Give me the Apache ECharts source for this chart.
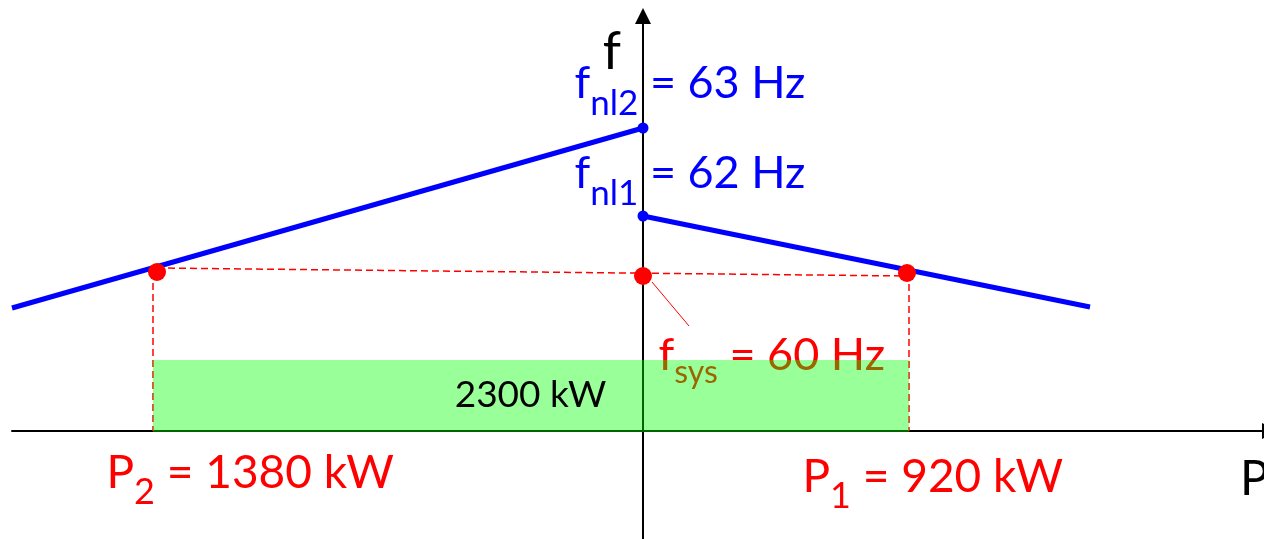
<!DOCTYPE html>
<html><head><meta charset="utf-8">
<script src="https://cdn.jsdelivr.net/npm/echarts@6/dist/echarts.min.js"></script>
<style>html,body{margin:0;padding:0;background:#fff}#c{width:1264px;height:539px}</style>
</head><body><div id="c"></div>
<script>
// Schematic diagram coordinates: x = power axis (0 at the f axis, generator 2 drawn to the left),
// y = frequency axis (0 at the P axis). The drawing is not to scale, as in the reference.
const droop2 = [[-631, 123], [0, 303]];          // generator 2 droop curve
const droop1 = [[0, 215], [447, 124]];           // generator 1 droop curve
const noLoadPoints = [[0, 303], [0, 215]];       // f_nl2, f_nl1
const operatingPoints = [[-486, 159], [0, 155], [264, 158]];
const sysFreqLine = [[-486, 163], [264, 155]];
const p2Drop = [[-490, 159], [-490, 0]];
const p1Drop = [[266, 158], [266, 0]];
const leaderLine = [[9, 149], [46, 105]];
const sharedLoad = [[-490, 71, 266, -1]];        // x0, y0, x1, y1

// Values shown in the diagram
const fnlHz = [62, 63];        // no-load frequency of gen 1, gen 2
const fsysHz = 60;
const powerKW = [920, 1380];   // P1, P2
const totalKW = 2300;

// Label anchor points (left / middle of each text)
const fnlLabelAnchors = [[-68, 257], [-68, 347]];
const fsysLabelAnchor = [16, 75];
const powerLabelAnchors = [[160, -47], [-536, -43]];
const totalLabelAnchor = [-112, 35];

const BLUE = '#0000ff', RED = '#ff0000', FONT = 'Lato';
function rich(color, big, small, drop) {
  return {
    m: { color: color, fontSize: big, fontFamily: FONT, lineHeight: big + 10 },
    s: { color: color, fontSize: small, fontFamily: FONT, lineHeight: big + 10, padding: [drop, 0, 0, 0] }
  };
}
const baseLabel = { show: true, position: [0, 0], align: 'left', verticalAlign: 'middle', opacity: 1 };

const annotations = [
  { value: fnlLabelAnchors[1], label: Object.assign({}, baseLabel, { formatter: '{m|f}{s|nl2}{m| = ' + fnlHz[1] + ' Hz}', rich: rich(BLUE, 45, 35, 40) }) },
  { value: fnlLabelAnchors[0], label: Object.assign({}, baseLabel, { formatter: '{m|f}{s|nl1}{m| = ' + fnlHz[0] + ' Hz}', rich: rich(BLUE, 45, 35, 40) }) },
  { value: fsysLabelAnchor, label: Object.assign({}, baseLabel, { formatter: '{m|f}{s|sys}{m| = ' + fsysHz + ' Hz}', rich: rich(RED, 45, 32, 34) }) },
  { value: powerLabelAnchors[0], label: Object.assign({}, baseLabel, { formatter: '{m|P}{s|1}{m| = ' + powerKW[0] + ' kW}', rich: rich(RED, 46, 36, 38) }) },
  { value: powerLabelAnchors[1], label: Object.assign({}, baseLabel, { formatter: '{m|P}{s|2}{m| = ' + powerKW[1] + ' kW}', rich: rich(RED, 46, 36, 38) }) }
];

function lineSeries(data, color, width, type, z) {
  return { type: 'line', data: data, symbol: 'none', silent: true, z: z,
    lineStyle: { color: color, width: width, type: type, cap: 'butt', opacity: 1 } };
}

const chart = echarts.init(document.getElementById('c'));
chart.setOption({
  animation: false,
  backgroundColor: '#ffffff',
  grid: { left: 12, right: -6, top: 16, bottom: 0, containLabel: false, outerBoundsMode: 'none' },
  xAxis: {
    type: 'value', min: -631, max: 627,
    name: '{p|P}', nameLocation: 'end', nameGap: -30,
    nameTextStyle: { align: 'left', verticalAlign: 'middle',
      rich: { p: { fontSize: 48, fontFamily: FONT, color: '#000', lineHeight: 58, padding: [98, 0, 0, 0] } } },
    axisLine: { show: true, onZero: true, symbol: ['none', 'triangle'], symbolSize: [16, 16], lineStyle: { color: '#000', width: 2 } },
    axisTick: { show: false }, axisLabel: { show: false }, splitLine: { show: false }
  },
  yAxis: {
    type: 'value', min: -108, max: 415,
    name: 'f', nameLocation: 'end', nameGap: -36,
    nameTextStyle: { fontSize: 52, fontFamily: FONT, color: '#000', align: 'right', verticalAlign: 'middle', padding: [0, 22, 0, 0] },
    axisLine: { show: true, onZero: true, symbol: ['none', 'triangle'], symbolSize: [16, 16], lineStyle: { color: '#000', width: 2 } },
    axisTick: { show: false }, axisLabel: { show: false }, splitLine: { show: false }
  },
  series: [
    lineSeries(droop2, BLUE, 5, 'solid', 3),
    lineSeries(droop1, BLUE, 5, 'solid', 3),
    lineSeries(sysFreqLine, RED, 1.5, [7, 4], 3),
    lineSeries(p2Drop, RED, 1.5, [7, 4], 3),
    lineSeries(p1Drop, RED, 1.5, [7, 4], 3),
    lineSeries(leaderLine, RED, 1, 'solid', 3),
    { type: 'scatter', data: noLoadPoints, symbolSize: 11, itemStyle: { color: BLUE, opacity: 1 }, silent: true, z: 4 },
    { type: 'scatter', data: operatingPoints, symbolSize: 18, itemStyle: { color: RED, opacity: 1 }, silent: true, z: 4 },
    { type: 'scatter', data: annotations, symbolSize: 1, itemStyle: { color: 'rgba(0,0,0,0)', opacity: 1 }, silent: true, z: 5 },
    {
      type: 'custom', data: sharedLoad, silent: true, z: 10,
      encode: { x: [0, 2], y: [1, 3] },
      renderItem: function (params, api) {
        const p0 = api.coord([api.value(0), api.value(1)]);
        const p1 = api.coord([api.value(2), api.value(3)]);
        return { type: 'rect', shape: { x: p0[0], y: p0[1], width: p1[0] - p0[0], height: p1[1] - p0[1] },
          style: { fill: 'rgba(0,255,0,0.4)' } };
      }
    },
    {
      type: 'scatter', data: [totalLabelAnchor], symbolSize: 1, itemStyle: { color: 'rgba(0,0,0,0)', opacity: 1 }, silent: true, z: 20,
      label: { show: true, position: [0, 0], align: 'center', verticalAlign: 'middle', opacity: 1,
        formatter: totalKW + ' kW', fontSize: 37, fontFamily: FONT, color: '#000' }
    }
  ]
});
</script></body></html>
